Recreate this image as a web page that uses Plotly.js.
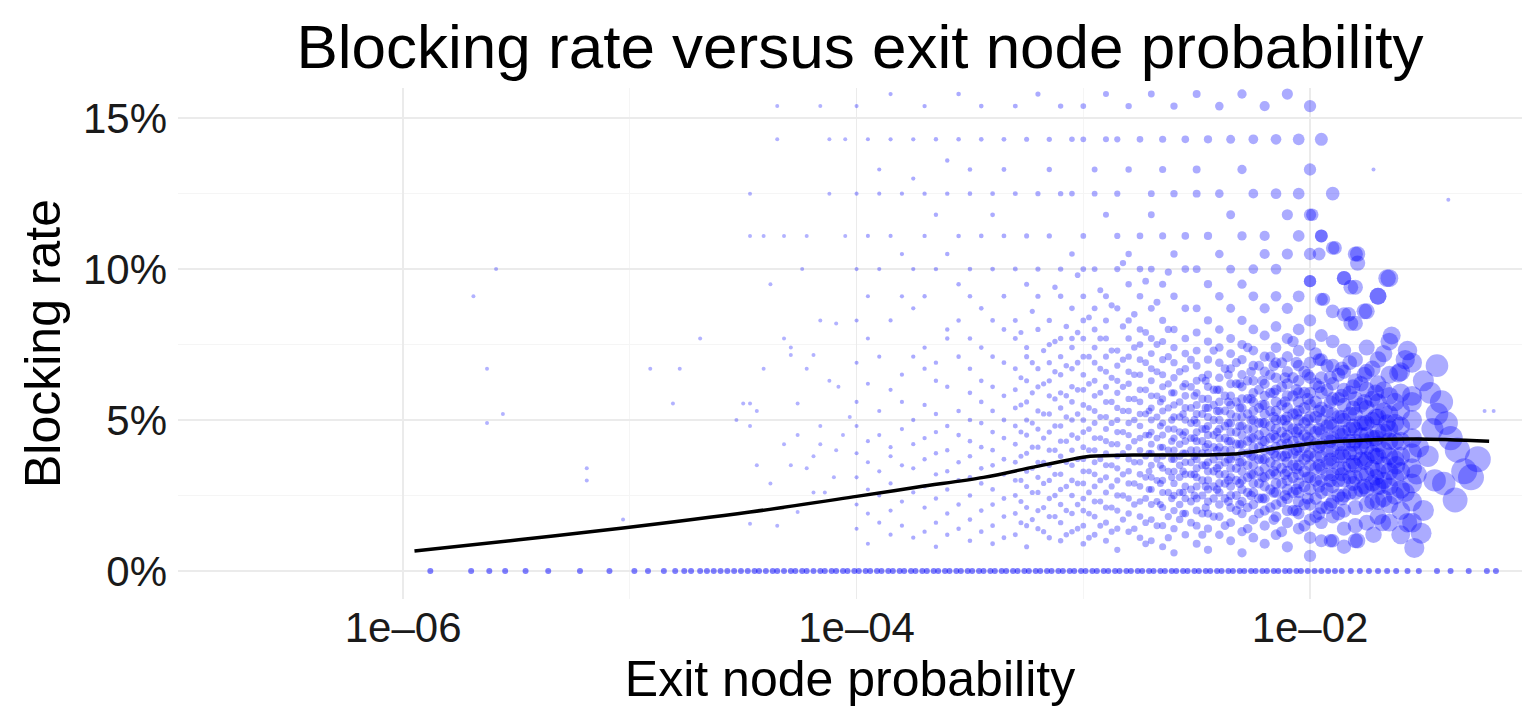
<!DOCTYPE html>
<html>
<head>
<meta charset="utf-8">
<script src="https://cdn.plot.ly/plotly-3.0.1.min.js"></script>
<style>html,body{margin:0;padding:0;background:#fff;}#chart{width:1522px;height:710px;}</style>
</head>
<body>
<div id="chart"></div>
<script>
// ---- DATA (x given as log10 of exit node probability, y as blocking rate in %) ----
// Main columns: each column shares one exit probability (log10), listing blocking rates (%)
const colLx = [-4.00,-3.95,-3.90,-3.85,-3.80,-3.75,-3.70,-3.65,-3.60,-3.55,-3.50,-3.45,-3.40,-3.35,-3.30,-3.25,-3.20,-3.15,-3.10,-3.05,
  -3.00,-2.95,-2.90,-2.85,-2.80,-2.75,-2.70,-2.65,-2.60,-2.55,
  -2.50,-2.45,-2.40,-2.35,-2.30,-2.25,-2.20,-2.15,-2.10,-2.05,
  -2.00,-1.95,-1.90,-1.85,-1.80,-1.75,-1.70,-1.65,-1.60,-1.55];
const colRates = [
  [15.4,12.5,10.0,8.3,6.9,5.6,4.8,3.9,3.1,2.2,1.4],
  [14.3,11.1,9.1,7.7,6.2,4.3,3.6,2.7,1.9,0.9],
  [13.3,12.5,10.0,7.1,5.3,4.5,3.3,2.5,1.6],
  [15.8,14.3,11.1,8.3,6.0,4.1,3.8,2.9,2.0,1.2],
  [12.5,10.5,9.1,6.5,5.6,4.7,3.5,2.3,1.5],
  [14.3,13.0,10.0,8.7,7.1,5.0,4.2,3.4,2.6,1.1],
  [15.4,12.5,11.1,9.1,7.4,6.7,5.5,4.4,3.7,2.8,2.1,1.3],
  [14.3,11.8,10.0,6.9,6.3,5.2,4.6,3.9,3.2,2.4,1.6,0.8],
  [13.6,12.5,10.5,8.0,7.7,6.1,4.8,4.0,3.3,2.7,1.9,1.2],
  [15.8,14.3,11.1,9.5,8.3,7.1,5.3,4.5,3.6,3.0,2.2,1.4],
  [13.3,12.5,10.0,9.1,7.7,6.7,5.9,5.0,4.3,3.8,3.1,2.5,1.7,1.0],
  [15.4,14.3,11.1,8.7,7.4,6.3,5.6,4.9,4.1,3.4,2.9,2.0,1.3],
  [12.5,11.8,10.0,8.3,7.1,6.1,5.3,4.6,4.0,3.5,2.7,2.2,1.5,0.9],
  [14.3,13.3,11.1,9.1,8.0,6.9,5.8,5.0,4.4,3.7,3.2,2.4,1.8,1.1],
  [15.4,12.5,10.0,8.3,7.7,6.7,6.0,5.4,4.8,4.2,3.6,3.0,2.5,1.9,1.2],
  [14.3,11.1,9.5,7.4,7.1,6.3,5.6,5.0,4.5,3.9,3.3,2.8,2.1,1.5,0.8],
  [15.8,12.5,10.0,9.1,8.0,6.7,6.1,5.3,4.7,4.1,3.6,3.1,2.6,2.0,1.4],
  [14.3,13.3,11.1,8.3,7.5,6.9,6.3,5.8,5.2,4.6,4.0,3.5,3.0,2.4,1.8,1.1],
  [15.4,12.5,10.0,9.1,7.7,7.1,6.5,5.9,5.4,4.8,4.3,3.8,3.2,2.7,2.2,1.6,1.0],
  [14.3,12.5,10.5,8.7,7.7,7.4,6.7,6.1,5.6,5.0,4.5,4.0,3.5,3.0,2.5,1.9,1.3],
  [15.4,14.3,11.1,10.0,9.1,8.3,7.7,7.1,6.5,6.0,5.5,5.0,4.6,4.1,3.7,3.3,2.9,2.4,2.0,1.5,0.9],
  [13.3,12.5,10.0,8.7,8.0,7.4,6.9,6.3,5.8,5.3,4.9,4.4,4.0,3.6,3.2,2.8,2.3,1.8,1.2],
  [15.8,14.3,11.8,9.1,8.3,7.7,7.1,6.6,6.1,5.6,5.1,4.7,4.3,3.9,3.5,3.1,2.6,2.1,1.6,1.0],
  [14.3,12.5,11.1,10.0,8.7,7.3,6.8,6.3,5.9,5.4,5.0,4.6,4.2,3.8,3.4,3.0,2.5,2.0,1.4,0.7],
  [15.4,13.3,10.5,9.5,8.3,7.7,7.1,6.6,6.2,5.7,5.3,4.9,4.5,4.1,3.7,3.3,2.9,2.4,1.9,1.3],
  [14.3,11.1,10.0,9.1,8.0,7.5,7.0,6.5,6.0,5.6,5.2,4.8,4.4,4.0,3.6,3.2,2.8,2.3,1.8,1.1],
  [15.8,12.5,11.8,10.0,8.7,7.7,7.2,6.7,6.3,5.8,5.4,5.0,4.6,4.2,3.9,3.5,3.1,2.7,2.2,1.7,1.0],
  [14.3,13.3,11.1,9.5,8.3,7.6,7.0,6.5,6.1,5.7,5.3,4.9,4.5,4.1,3.8,3.4,3.0,2.6,2.1,1.5,0.8],
  [15.4,12.5,10.5,9.1,8.0,7.4,6.9,6.4,5.9,5.5,5.1,4.7,4.4,4.0,3.7,3.3,2.9,2.5,2.0,1.4,0.6],
  [14.3,11.1,10.0,8.7,7.7,7.2,6.7,6.2,5.8,5.4,5.0,4.6,4.3,3.9,3.6,3.2,2.8,2.4,1.9,1.2],
  [15.8,13.3,12.5,10.0,8.7,7.9,7.3,6.8,6.3,5.9,5.5,5.2,4.9,4.6,4.3,4.0,3.7,3.4,3.1,2.8,2.4,2.0,1.5,0.9],
  [14.3,11.1,9.5,8.3,7.6,7.0,6.5,6.1,5.7,5.4,5.1,4.8,4.5,4.2,3.9,3.6,3.3,3.0,2.7,2.3,1.9,1.4,0.7],
  [15.4,12.5,10.5,9.1,8.0,7.4,6.9,6.4,6.0,5.6,5.3,5.0,4.7,4.4,4.1,3.8,3.5,3.2,2.9,2.6,2.2,1.8,1.2],
  [14.3,11.8,10.0,8.7,7.7,7.2,6.7,6.2,5.8,5.5,5.2,4.9,4.6,4.3,4.0,3.7,3.4,3.1,2.8,2.5,2.1,1.6,1.0],
  [15.8,13.3,11.1,9.5,8.3,7.5,7.0,6.5,6.1,5.7,5.4,5.1,4.8,4.5,4.2,3.9,3.6,3.3,3.0,2.7,2.3,1.9,1.3,0.6],
  [14.3,12.5,10.0,9.1,8.0,7.3,6.8,6.3,5.9,5.6,5.3,5.0,4.7,4.4,4.1,3.8,3.5,3.2,2.9,2.6,2.2,1.7,1.1],
  [15.4,11.1,10.5,8.7,7.8,7.1,6.6,6.2,5.8,5.5,5.2,4.9,4.6,4.3,4.0,3.7,3.4,3.1,2.8,2.4,2.0,1.5,0.9],
  [14.3,12.5,10.0,9.1,8.1,7.4,6.9,6.4,6.0,5.6,5.3,5.0,4.7,4.4,4.1,3.8,3.5,3.2,2.9,2.6,2.2,1.8,1.2],
  [15.8,11.8,10.5,8.7,7.7,7.1,6.6,6.2,5.8,5.4,5.1,4.8,4.5,4.2,3.9,3.6,3.3,3.0,2.7,2.4,2.0,1.6,0.8],
  [14.3,12.5,11.1,9.1,8.0,7.3,6.8,6.3,5.9,5.6,5.3,5.0,4.7,4.4,4.1,3.8,3.5,3.2,2.9,2.6,2.3,1.9,1.4],
  [15.4,13.3,11.8,10.5,9.6,8.3,7.5,6.9,6.4,5.9,5.5,5.1,4.7,4.3,3.9,3.5,3.1,2.7,2.2,1.7,1.1,0.5],
  [14.3,11.1,9.0,7.8,7.0,6.4,5.9,5.4,5.0,4.6,4.2,3.8,3.4,3.0,2.6,2.1,1.6,1.0],
  [12.5,10.7,8.6,7.6,6.8,6.2,5.7,5.2,4.8,4.4,4.0,3.6,3.2,2.8,2.3,1.8,1.0],
  [9.7,8.5,7.3,6.6,6.0,5.5,5.0,4.6,4.2,3.8,3.4,3.0,2.5,2.0,1.4],
  [10.5,9.4,8.2,7.0,6.3,5.7,5.2,4.7,4.3,3.9,3.5,3.1,2.6,2.1,1.5,1.0],
  [8.6,7.4,6.6,6.0,5.4,4.9,4.5,4.1,3.7,3.2,2.7,2.2,1.6],
  [9.1,7.0,6.2,5.6,5.1,4.6,4.2,3.8,3.3,2.8,2.3,1.8],
  [9.7,7.6,6.5,5.8,5.2,4.7,4.3,3.8,3.3,2.8,2.2,1.6],
  [6.6,5.9,5.3,4.8,4.3,3.8,3.3,2.7,2.0],
  [6.9,5.8,5.0,4.4,3.9,3.4,2.9,2.3,1.6]
];
// Intermediate columns in the mid range
const midLx = [-3.275,-3.225,-3.175,-3.125,-3.075,-3.025,-2.975,-2.925,-2.875,-2.825,-2.775,-2.725,-2.675,-2.625];
const midRates = [
  [7.9,6.4,5.5,4.6,3.8,3.0,2.3,1.6],
  [8.6,6.9,5.9,4.9,4.1,3.4,2.6,1.7],
  [7.3,6.2,5.2,4.4,3.6,2.9,2.1,1.3],
  [9.4,7.6,6.6,5.7,4.8,4.0,3.2,2.5,1.8],
  [8.1,6.8,5.8,5.1,4.3,3.6,2.8,2.0,1.2],
  [9.8,7.9,6.9,6.0,5.2,4.4,3.7,2.9,2.2,1.4],
  [8.4,7.1,6.2,5.4,4.7,4.0,3.3,2.6,1.9,1.1],
  [9.3,7.7,6.7,5.9,5.1,4.4,3.7,3.0,2.3,1.5],
  [8.8,7.3,6.4,5.6,4.9,4.2,3.5,2.8,2.1,1.3],
  [10.2,8.1,7.0,6.1,5.3,4.6,3.9,3.2,2.5,1.7],
  [8.5,7.4,6.5,5.7,5.0,4.3,3.6,2.9,2.2,1.4],
  [9.6,7.9,6.9,6.0,5.2,4.5,3.8,3.1,2.4,1.6,0.9],
  [8.9,7.5,6.6,5.8,5.1,4.4,3.7,3.0,2.3,1.5],
  [9.9,8.0,7.1,6.2,5.4,4.7,4.0,3.3,2.6,1.8,1.1]
];
// Core columns (dense central band)
const coreLx = [-2.575,-2.525,-2.475,-2.425,-2.375,-2.325,-2.275,-2.225,-2.175,-2.125,-2.075,-2.025,-1.975,-1.925,-1.875,-1.825,-1.775,-1.725,-1.675,-1.625];
const coreRates = [
  [6.6,5.6,5.1,4.6,4.2,3.8,3.5,3.1,2.6,2.2,1.7],
  [7.0,6.1,5.4,4.9,4.4,4.0,3.6,3.2,2.7,2.3,1.6],
  [6.4,5.7,5.2,4.7,4.3,3.9,3.5,3.0,2.5,1.9,1.2],
  [7.3,6.0,5.5,5.0,4.5,4.1,3.7,3.3,2.8,2.4,1.8],
  [6.7,5.8,5.3,4.8,4.4,4.0,3.6,3.2,2.9,2.4,1.5],
  [6.9,6.2,5.6,5.1,4.6,4.2,3.8,3.4,3.0,2.5,2.0],
  [7.4,6.3,5.7,5.2,4.7,4.3,3.9,3.5,3.1,2.6,2.1,1.4],
  [6.8,6.0,5.4,4.9,4.5,4.1,3.7,3.3,2.9,2.4,1.9],
  [7.1,6.5,5.9,5.3,4.8,4.4,4.0,3.6,3.2,2.7,2.1],
  [6.9,6.1,5.5,5.0,4.6,4.2,3.8,3.4,2.9,2.3,1.3],
  [7.6,6.4,5.8,5.2,4.7,4.3,3.9,3.5,3.1,2.6,2.0],
  [6.6,5.9,5.4,4.9,4.5,4.1,3.7,3.3,2.8,2.2,1.5],
  [7.2,6.2,5.6,5.1,4.6,4.2,3.8,3.4,3.0,2.4,1.8],
  [6.8,6.0,5.3,4.8,4.4,4.0,3.6,3.2,2.7,2.1],
  [6.5,5.7,5.1,4.6,4.2,3.8,3.4,3.0,2.5,1.9],
  [6.9,5.9,5.2,4.7,4.3,3.9,3.5,3.1,2.6],
  [6.2,5.5,4.9,4.5,4.1,3.7,3.2,2.7],
  [6.7,5.7,5.0,4.4,3.9,3.4,2.9,2.3],
  [7.2,6.0,5.3,4.6,4.0,3.5,3.0,2.4],
  [5.6,4.9,4.3,3.7,3.1,2.5]
];
// Second core set (centre of the cloud, around the trend)
const core2Lx = [-2.71,-2.66,-2.61,-2.56,-2.51,-2.46,-2.41,-2.36,-2.31,-2.26,-2.21,-2.16,-2.11,-2.06,-2.01,-1.96,-1.91,-1.86,-1.81,-1.76,-1.71];
const core2Rates = [
  [5.3,4.5,3.9,3.3,2.7],
  [5.6,4.8,4.1,3.5,2.9,2.2],
  [5.9,5.0,4.3,3.7,3.1,2.4],
  [6.1,5.2,4.5,3.9,3.3,2.6,1.9],
  [5.8,5.0,4.4,3.8,3.2,2.5],
  [6.3,5.4,4.7,4.1,3.5,2.8,2.1],
  [6.0,5.3,4.6,4.0,3.4,2.7],
  [6.5,5.6,4.9,4.3,3.7,3.0,2.3],
  [6.2,5.4,4.8,4.2,3.6,2.9,2.2],
  [6.6,5.7,5.0,4.4,3.8,3.2,2.5],
  [6.3,5.5,4.9,4.3,3.7,3.1,2.4],
  [6.8,5.9,5.1,4.5,3.9,3.3,2.6,1.7],
  [6.4,5.6,5.0,4.4,3.8,3.2,2.5],
  [6.9,6.0,5.2,4.6,4.0,3.4,2.7,2.0],
  [6.5,5.7,5.0,4.4,3.8,3.1,2.4],
  [7.0,6.1,5.3,4.7,4.1,3.5,2.8,1.9],
  [6.4,5.6,4.9,4.3,3.7,3.0,2.2],
  [6.7,5.8,5.1,4.5,3.9,3.2,2.4],
  [6.1,5.4,4.8,4.2,3.6,2.9],
  [6.5,5.6,4.9,4.3,3.6,2.8],
  [5.9,5.1,4.4,3.8,3.1]
];
// Large relays at the right edge: [log10 probability, blocking rate %]
const bigRelays = [[-1.61,6.55],[-1.50,6.3],[-1.42,5.6],[-1.44,5.2],[-1.38,4.4],[-1.26,3.7],[-1.32,3.3],[-1.29,3.1],[-1.36,2.35],
  [-1.54,0.76],[-1.48,3.8],[-1.83,8.5],[-1.82,8.2],[-1.76,8.6],[-1.91,1.0],[-1.79,1.0],[-1.68,1.6],[-1.57,1.6],[-1.51,1.25],
  [-1.69,2.8],[-1.46,4.7],[-1.52,4.1],[-1.45,3.0],[-1.41,2.9],[-1.50,2.0],[-1.47,5.9],[-1.58,7.0],[-1.55,5.6],[-1.64,7.8],
  [-1.57,7.3],[-1.44,6.8],[-1.40,4.9],[-1.35,4.0],[-1.62,3.5],[-1.58,2.6],[-1.66,4.9],[-1.53,3.2],[-1.60,1.2],[-1.72,1.2],
  [-1.85,0.8],[-1.66,9.7],[-1.79,10.5],[-1.79,10.2],[-1.89,10.7],[-1.85,9.7],[-1.82,9.4],[-1.99,11.8],[-1.95,11.1],
  [-1.96,10.5],[-2.00,9.6],[-1.94,9.0],[-1.70,9.1]];
// Sparse small relays: [log10 probability, blocking rate %]
const sparseRelays = [[-5.69,9.1],[-5.63,6.7],[-5.63,4.9],[-5.56,5.2],[-5.59,10.0],[-5.19,3.4],[-5.19,3.0],[-5.03,1.7],
  [-4.91,6.7],[-4.81,5.55],[-4.78,6.7],[-4.69,7.7],[-4.53,5.0],[-4.50,5.55],[-4.47,5.55],[-4.44,5.3],[-4.47,4.8],[-4.44,3.5],
  [-4.38,2.9],[-4.47,1.56],[-4.35,1.5],[-4.38,9.5],[-4.35,15.4],[-4.16,15.4],[-4.35,14.3],[-4.12,14.3],[-4.05,14.3],
  [-4.47,12.5],[-4.12,12.5],[-4.47,11.1],[-4.41,11.1],[-4.32,11.1],[-4.22,11.1],[-4.05,11.1],[-4.32,7.7],[-4.29,7.4],
  [-4.29,7.15],[-4.19,7.15],[-4.41,6.7],[-4.22,6.7],[-4.16,8.3],[-4.09,8.2],[-4.12,6.3],[-4.26,5.55],[-4.16,4.8],
  [-4.32,4.2],[-4.26,4.5],[-4.16,4.2],[-4.09,4.0],[-4.19,3.8],[-4.29,3.5],[-4.22,3.4],[-4.19,2.6],[-4.26,1.95],
  [-4.03,5.1],[-4.06,4.5],[-4.10,3.1],[-4.14,2.6],[-4.08,6.1],[-4.24,10.0],[-1.39,12.3],[-1.23,5.3],[-1.19,5.3],[-1.72,13.3]];
// Relays with zero blocking rate (log10 probability)
const zeroLx = [-5.88,-5.70,-5.62,-5.55,-5.46,-5.36,-5.22,-5.09,-4.98,-4.92,-4.85,-4.80,-4.76,-4.73,-4.69,-4.66,-4.63,-4.60,
  -4.57,-4.54,-4.51,-4.48,-4.45,-4.43,-4.40,-4.37,-4.35,-4.32,-4.29,-4.27,-4.24,-4.22,-4.19,-4.16,-4.14,-4.11,-4.09,-4.06,
  -4.04,-4.01,-3.99,-3.96,-3.94,-3.91,-3.89,-3.86,-3.84,-3.81,-3.79,-3.76,-3.74,-3.71,-3.69,-3.66,-3.64,-3.61,-3.59,-3.56,
  -3.54,-3.51,-3.49,-3.46,-3.44,-3.41,-3.39,-3.36,-3.34,-3.31,-3.29,-3.26,-3.24,-3.21,-3.19,-3.16,-3.14,-3.11,-3.09,-3.06,
  -3.04,-3.01,-2.99,-2.96,-2.94,-2.91,-2.89,-2.86,-2.84,-2.81,-2.79,-2.76,-2.74,-2.71,-2.69,-2.66,-2.64,-2.61,-2.59,-2.56,
  -2.54,-2.51,-2.49,-2.46,-2.44,-2.41,-2.39,-2.36,-2.34,-2.31,-2.29,-2.26,-2.24,-2.21,-2.19,-2.16,-2.14,-2.11,-2.09,-2.06,
  -2.04,-2.01,-1.98,-1.95,-1.92,-1.89,-1.86,-1.82,-1.78,-1.74,-1.70,-1.66,-1.62,-1.57,-1.52,-1.44,-1.38,-1.30,-1.22,-1.18];
// Smoothed trend (loess)
const trendLx = [-5.95,-5.49,-5.03,-4.47,-4.0,-3.73,-3.44,-3.22,-3.07,-2.97,-2.78,-2.48,-2.34,-2.26,-2.12,-1.97,-1.75,-1.53,-1.21];
const trendRate = [0.66,1.03,1.42,1.95,2.47,2.78,3.1,3.44,3.67,3.8,3.84,3.84,3.87,3.94,4.1,4.24,4.34,4.37,4.30];

const xTicks = [1e-6, 1e-4, 1e-2];
const xTickText = ['1e\u201306', '1e\u201304', '1e\u201302'];
const yTicks = [0, 5, 10, 15];
const yTickText = ['0%', '5%', '10%', '15%'];

// ---- BUILD ----
const toP = lx => Math.pow(10, lx);
const sizeScale = lx => Math.min(26, 3.5 + 140 * Math.pow(10, 0.6 * lx));

const mx = [], my = [], ms = [];
function addCols(lxs, rates) {
  lxs.forEach((lx, i) => rates[i].forEach(r => { mx.push(toP(lx)); my.push(r); ms.push(sizeScale(lx)); }));
}
addCols(colLx, colRates);
addCols(midLx, midRates);
addCols(coreLx, coreRates);
addCols(core2Lx, core2Rates);
bigRelays.forEach(([lx, r]) => { mx.push(toP(lx)); my.push(r); ms.push(sizeScale(lx)); });

const fontFam = '"Liberation Sans", Arial, Helvetica, sans-serif';
const traces = [
  { type: 'scatter', mode: 'markers', x: zeroLx.map(toP), y: zeroLx.map(() => 0),
    marker: { color: 'rgb(0,0,255)', opacity: 0.5, size: 6, line: { width: 0 } }, hoverinfo: 'skip' },
  { type: 'scatter', mode: 'markers', x: sparseRelays.map(d => toP(d[0])), y: sparseRelays.map(d => d[1]),
    marker: { color: 'rgb(0,0,255)', opacity: 0.3, size: 4, line: { width: 0 } }, hoverinfo: 'skip' },
  { type: 'scatter', mode: 'markers', x: mx, y: my,
    marker: { color: 'rgb(0,0,255)', opacity: 0.33, size: ms, line: { width: 0 } }, hoverinfo: 'skip' },
  { type: 'scatter', mode: 'lines', x: trendLx.map(toP), y: trendRate,
    line: { color: '#000', width: 3.5, shape: 'spline', smoothing: 1 }, hoverinfo: 'skip' }
];

const layout = {
  width: 1522, height: 710,
  margin: { l: 178, r: 0, t: 88, b: 111 },
  paper_bgcolor: '#fff', plot_bgcolor: '#fff',
  showlegend: false,
  font: { family: fontFam, color: '#000' },
  title: { text: 'Blocking rate versus exit node probability', font: { size: 62, color: '#000', family: fontFam },
    xref: 'container', x: 0.565, xanchor: 'center', yref: 'container', y: 0.935, yanchor: 'middle' },
  xaxis: {
    type: 'log', range: [-6.993, -1.065],
    tickmode: 'array', tickvals: xTicks, ticktext: xTickText,
    tickfont: { size: 42, color: '#1a1a1a' },
    ticks: '', showline: false, zeroline: false,
    showgrid: true, gridcolor: '#ebebeb', gridwidth: 1.8,
    minor: { tickmode: 'array', tickvals: [1e-7, 1e-5, 1e-3, 1e-1], showgrid: true, gridcolor: '#f5f5f5', gridwidth: 1.2, ticks: '' },
    title: { text: 'Exit node probability', font: { size: 50, color: '#000' }, standoff: 10 },
    automargin: false
  },
  yaxis: {
    range: [-0.93, 16.0],
    tickmode: 'array', tickvals: yTicks, ticktext: yTickText,
    tickfont: { size: 42, color: '#1a1a1a' },
    ticklabelstandoff: 10,
    ticks: '', showline: false, zeroline: false,
    showgrid: true, gridcolor: '#ebebeb', gridwidth: 1.8,
    minor: { tickmode: 'array', tickvals: [2.5, 7.5, 12.5], showgrid: true, gridcolor: '#f5f5f5', gridwidth: 1.2, ticks: '' },
    title: { text: 'Blocking rate', font: { size: 50, color: '#000' }, standoff: 6 },
    automargin: false
  }
};

Plotly.newPlot('chart', traces, layout, { displayModeBar: false, staticPlot: true });
</script>
</body>
</html>
